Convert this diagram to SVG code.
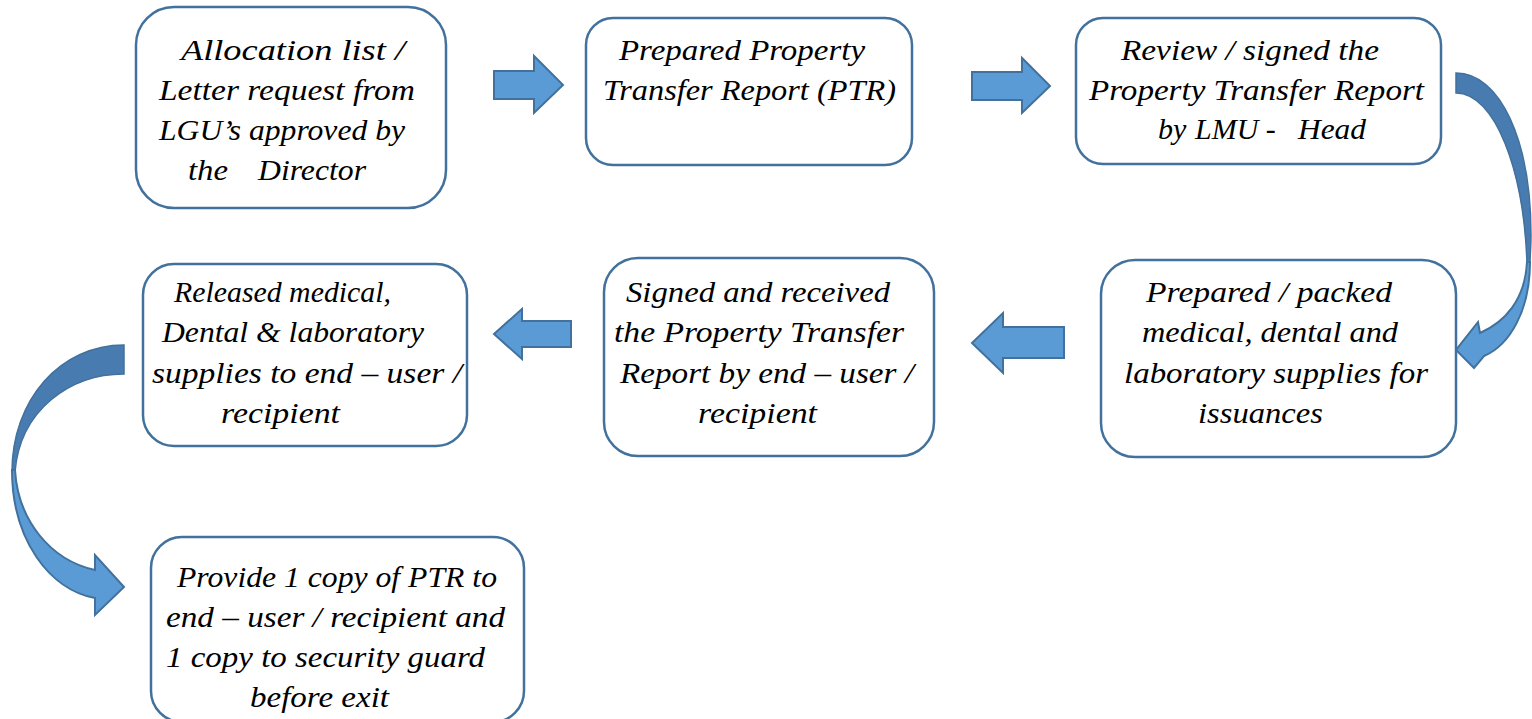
<svg xmlns="http://www.w3.org/2000/svg" width="1532" height="719" viewBox="0 0 1532 719">
<style>
.box{fill:#ffffff;stroke:#41719c;stroke-width:2.5}
.arr{fill:#5b9bd5;stroke:#41719c;stroke-width:2;stroke-linejoin:miter}
.dark{fill:#487cb0;stroke:#41719c;stroke-width:1.5}
text{font-family:"Liberation Serif","Times New Roman",serif;font-style:italic;font-size:30px;fill:#000000}
</style>
<rect width="1532" height="719" fill="#ffffff"/>
<g id="connectors">
<path class="arr" d="M494,71 H534 V56 L563,85 L534,113 V99 H494 Z"/>
<path class="arr" d="M972,72 H1022 V58 L1050,86 L1022,113 V100 H972 Z"/>
<path class="arr" d="M1064,327 H1003 V313 L972,343 L1003,373 V358 H1064 Z"/>
<path class="arr" d="M571,321 H522 V309 L494,334 L522,359 V347 H571 Z"/>
<path class="dark" d="M1456,73 C1500,73 1531,140 1531,235 C1531,248 1530,256 1530,264 L1527,264 C1524,170 1495,93 1456,93 Z"/>
<path class="arr" d="M1530,262 C1530,310 1510,345 1484,356 L1474,368 L1456,350 L1478,322 L1480,333 C1505,322 1525,300 1527,262 Z"/>
<path class="dark" d="M124,345 C60,345 12,400 12,472 L15,472 C20,410 70,374 124,374 Z"/>
<path class="arr" d="M12,470 C12,540 50,590 95,598 L95,615 L124,587 L95,555 L95,570 C50,560 18,520 15,470 Z"/>
</g>
<g id="node1">
<rect class="box" x="136" y="7" width="310" height="201" rx="38"/>
<text x="181" y="60" textLength="224" lengthAdjust="spacingAndGlyphs">Allocation list /</text>
<text x="159" y="100" textLength="256" lengthAdjust="spacingAndGlyphs">Letter request from</text>
<text x="159" y="140" textLength="246" lengthAdjust="spacingAndGlyphs">LGU’s approved by</text>
<text y="180"><tspan x="188" textLength="40" lengthAdjust="spacingAndGlyphs">the</tspan><tspan x="258" textLength="108" lengthAdjust="spacingAndGlyphs">Director</tspan></text>
</g>
<g id="node2">
<rect class="box" x="586" y="18" width="326" height="147" rx="27"/>
<text x="619" y="60" textLength="246" lengthAdjust="spacingAndGlyphs">Prepared Property</text>
<text x="603" y="100" textLength="293" lengthAdjust="spacingAndGlyphs">Transfer Report (PTR)</text>
</g>
<g id="node3">
<rect class="box" x="1076" y="18" width="365" height="146" rx="27"/>
<text x="1121" y="60" textLength="258" lengthAdjust="spacingAndGlyphs">Review / signed the</text>
<text x="1089" y="100" textLength="335" lengthAdjust="spacingAndGlyphs">Property Transfer Report</text>
<text y="139"><tspan x="1158">by</tspan><tspan x="1195">LMU -</tspan><tspan x="1298" textLength="68" lengthAdjust="spacingAndGlyphs">Head</tspan></text>
</g>
<g id="node4">
<rect class="box" x="1101" y="260" width="355" height="197" rx="34"/>
<text x="1146" y="302" textLength="246" lengthAdjust="spacingAndGlyphs">Prepared / packed</text>
<text x="1142" y="342" textLength="256" lengthAdjust="spacingAndGlyphs">medical, dental and</text>
<text x="1124" y="383" textLength="304" lengthAdjust="spacingAndGlyphs">laboratory supplies for</text>
<text x="1198" y="423" textLength="125" lengthAdjust="spacingAndGlyphs">issuances</text>
</g>
<g id="node5">
<rect class="box" x="604" y="258" width="330" height="198" rx="34"/>
<text x="626" y="302" textLength="264" lengthAdjust="spacingAndGlyphs">Signed and received</text>
<text x="614" y="342" textLength="290" lengthAdjust="spacingAndGlyphs">the Property Transfer</text>
<text x="620" y="383" textLength="294" lengthAdjust="spacingAndGlyphs">Report by end – user /</text>
<text x="698" y="423" textLength="119" lengthAdjust="spacingAndGlyphs">recipient</text>
</g>
<g id="node6">
<rect class="box" x="143" y="264" width="324" height="182" rx="31"/>
<text x="174" y="302" textLength="217" lengthAdjust="spacingAndGlyphs">Released medical,</text>
<text x="162" y="342" textLength="262" lengthAdjust="spacingAndGlyphs">Dental &amp; laboratory</text>
<text x="152" y="383" textLength="310" lengthAdjust="spacingAndGlyphs">supplies to end – user /</text>
<text x="221" y="423" textLength="119" lengthAdjust="spacingAndGlyphs">recipient</text>
</g>
<g id="node7">
<rect class="box" x="151" y="537" width="373" height="185" rx="31"/>
<text x="177" y="587" textLength="320" lengthAdjust="spacingAndGlyphs">Provide 1 copy of PTR to</text>
<text x="166" y="627" textLength="339" lengthAdjust="spacingAndGlyphs">end – user / recipient and</text>
<text x="166" y="667" textLength="319" lengthAdjust="spacingAndGlyphs">1 copy to security guard</text>
<text x="250" y="707" textLength="139" lengthAdjust="spacingAndGlyphs">before exit</text>
</g>
</svg>
